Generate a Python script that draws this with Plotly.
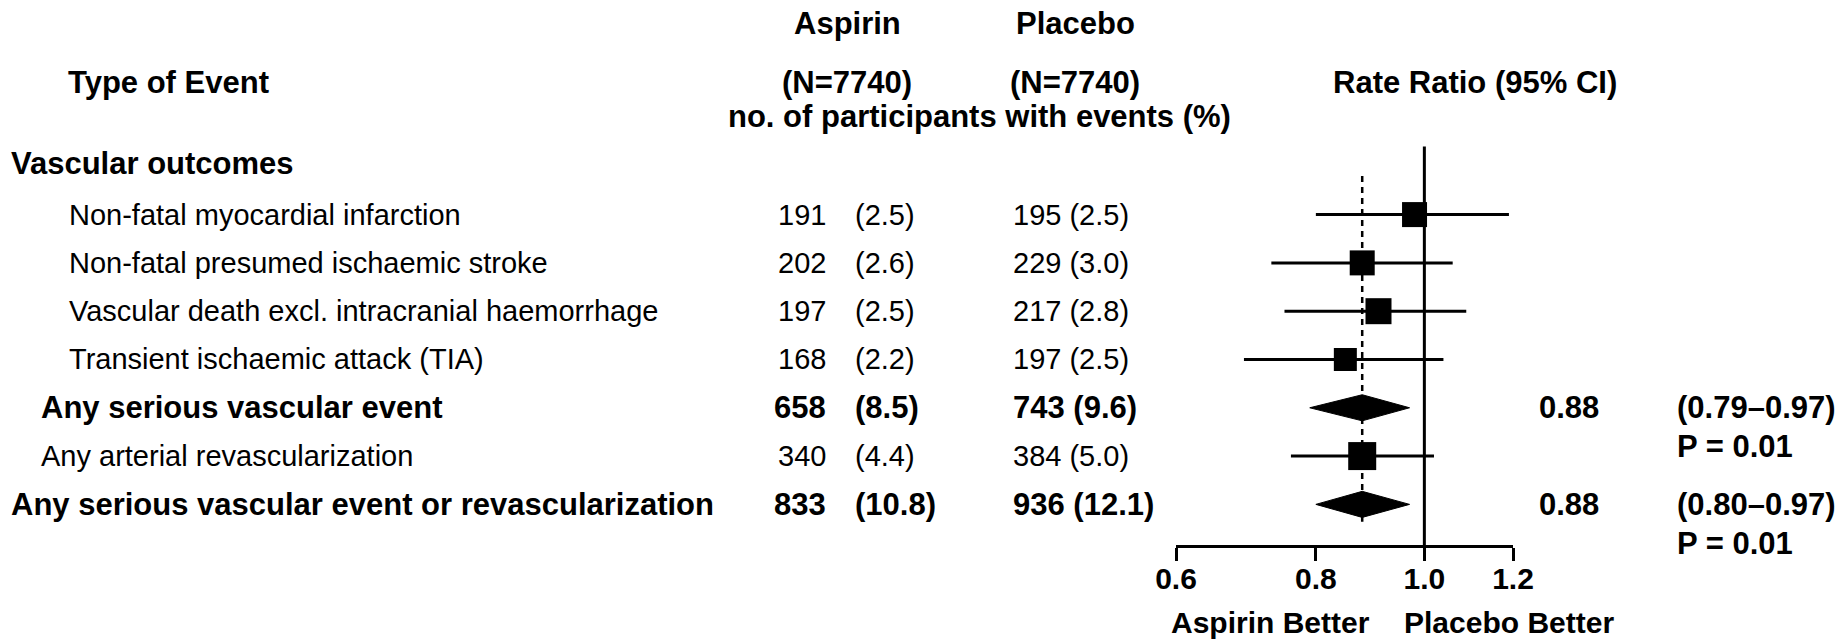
import math
import plotly.graph_objects as go

# rows of the table
events = ["Non-fatal myocardial infarction",
          "Non-fatal presumed ischaemic stroke",
          "Vascular death excl. intracranial haemorrhage",
          "Transient ischaemic attack (TIA)",
          "Any serious vascular event",
          "Any arterial revascularization",
          "Any serious vascular event or revascularization"]
indent = [2, 2, 2, 2, 1, 1, 0]
summary = [False, False, False, False, True, False, True]
bold = [False, False, False, False, True, False, True]

aspirin_n = [191, 202, 197, 168, 658, 340, 833]
aspirin_pct = ["2.5", "2.6", "2.5", "2.2", "8.5", "4.4", "10.8"]
placebo_n = [195, 229, 217, 197, 743, 384, 936]
placebo_pct = ["2.5", "3.0", "2.8", "2.5", "9.6", "5.0", "12.1"]

rr = [0.98, 0.88, 0.91, 0.85, 0.88, 0.88, 0.88]
ci_lo = [0.80, 0.73, 0.75, 0.69, 0.79, 0.76, 0.80]
ci_hi = [1.19, 1.06, 1.09, 1.04, 0.97, 1.02, 0.97]
box_size = [25, 25, 26, 23, 0, 28, 0]

rr_text = ["", "", "", "", "0.88", "", "0.88"]
ci_text = ["", "", "", "", "(0.79\u20130.97)", "", "(0.80\u20130.97)"]
p_text = ["", "", "", "", "P = 0.01", "", "P = 0.01"]

overall_rr = 0.88
ticks = [0.6, 0.8, 1.0, 1.2]
tick_labels = ["0.6", "0.8", "1.0", "1.2"]

W, H = 1839, 641
FONT = "Liberation Sans, Arial, sans-serif"
FS = 29      # regular text
FB = 31      # bold text

rows = list(range(1, len(events) + 1))

fig = go.Figure()

# reference line at 1.0 and dashed line at overall estimate
fig.add_trace(go.Scatter(x=[1.0, 1.0], y=[-0.41, 7.84], mode="lines",
                         line=dict(color="black", width=3), cliponaxis=False))
fig.add_trace(go.Scatter(x=[overall_rr, overall_rr], y=[0.2, 7.36], mode="lines",
                         line=dict(color="black", width=2.5, dash="6px,5px"),
                         cliponaxis=False))

# CI lines and boxes / diamonds
for i, k in enumerate(rows):
    if summary[i]:
        h = 0.27
        fig.add_trace(go.Scatter(
            x=[ci_lo[i], rr[i], ci_hi[i], rr[i], ci_lo[i]],
            y=[k, k - h, k, k + h, k],
            mode="lines", fill="toself", fillcolor="black",
            line=dict(color="black", width=1), cliponaxis=False))
    else:
        fig.add_trace(go.Scatter(x=[ci_lo[i], ci_hi[i]], y=[k, k], mode="lines",
                                 line=dict(color="black", width=3), cliponaxis=False))

fig.add_trace(go.Scatter(
    x=[rr[i] for i in range(len(rows)) if not summary[i]],
    y=[k for i, k in enumerate(rows) if not summary[i]],
    mode="markers", cliponaxis=False,
    marker=dict(symbol="square", color="black", opacity=1,
                size=[box_size[i] for i in range(len(rows)) if not summary[i]],
                line=dict(width=0))))

ann = []


def txt(x, y, s, anchor="left", b=False, yref="y", yanchor="middle", size=None):
    ann.append(dict(x=x / W, y=y, xref="paper", yref=yref,
                    text=("<b>%s</b>" % s) if b else s,
                    showarrow=False, xanchor=anchor, yanchor=yanchor,
                    font=dict(family=FONT, size=size or (FB if b else FS), color="black")))


def py(p):
    return 1 - p / H


indent_x = [9, 39, 67]
for i, k in enumerate(rows):
    txt(indent_x[indent[i]], k, events[i], b=bold[i])
    txt(828, k, str(aspirin_n[i]), anchor="right", b=bold[i])
    txt(853, k, "(%s)" % aspirin_pct[i], b=bold[i])
    txt(1011, k, "%d (%s)" % (placebo_n[i], placebo_pct[i]), b=bold[i])
    if rr_text[i]:
        txt(1569, k, rr_text[i], anchor="center", b=True)
        txt(1756, k, ci_text[i], anchor="center", b=True)
        txt(1735, k + 0.8, p_text[i], anchor="center", b=True)

# headers
txt(847, py(23.5), "Aspirin", anchor="center", b=True, yref="paper")
txt(1075, py(23.5), "Placebo", anchor="center", b=True, yref="paper")
txt(168, py(82), "Type of Event", anchor="center", b=True, yref="paper")
txt(847, py(82), "(N=7740)", anchor="center", b=True, yref="paper")
txt(1075, py(82), "(N=7740)", anchor="center", b=True, yref="paper")
txt(1475, py(82), "Rate Ratio (95% CI)", anchor="center", b=True, yref="paper")
txt(979, py(117), "no. of participants with events (%)", anchor="center", b=True, yref="paper")
txt(9, py(163), "Vascular outcomes", b=True, yref="paper")
txt(1270, 0, "Aspirin Better", anchor="center", b=True, yref="paper", yanchor="bottom", size=30)
txt(1509, 0, "Placebo Better", anchor="center", b=True, yref="paper", yanchor="bottom", size=30)

fig.update_layout(
    width=W, height=H, margin=dict(l=0, r=0, t=0, b=0, pad=0, autoexpand=False),
    paper_bgcolor="white", plot_bgcolor="white", showlegend=False,
    annotations=ann,
    xaxis=dict(type="log", range=[math.log10(0.6), math.log10(1.2)],
               domain=[1176 / W, 1513 / W], automargin=False,
               tickvals=ticks, ticktext=["<b>%s</b>" % t for t in tick_labels],
               ticks="outside", ticklen=13, tickwidth=3, tickcolor="black",
               ticklabelstandoff=-8,
               showline=True, linewidth=3, linecolor="black",
               showgrid=False, zeroline=False,
               tickfont=dict(family=FONT, size=30, color="black")),
    yaxis=dict(domain=[1 - 545 / H, 1], range=[7.841, -3.443], visible=False,
               automargin=False, showgrid=False, zeroline=False),
)

fig.write_html("out.html", config={"displayModeBar": False},
               post_script="document.body.style.margin='0';")
